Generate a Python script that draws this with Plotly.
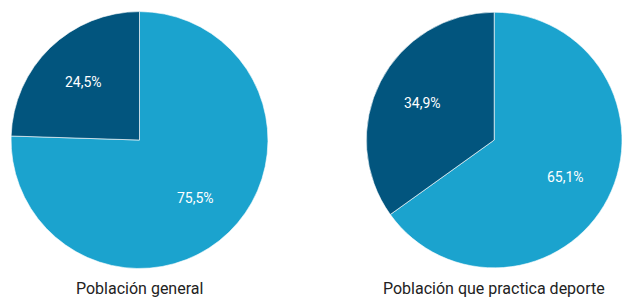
import math
import plotly.graph_objects as go

categories = ["No", "Sí"]
general_values = [75.5, 24.5]
deporte_values = [65.1, 34.9]
general_labels = ["75,5%", "24,5%"]
deporte_labels = ["65,1%", "34,9%"]
titles = ["Población general", "Población que practica deporte"]

light = "#1ba3ce"
dark = "#02557e"

W, H = 622, 297
domains_x = [[0.0177, 0.4309], [0.589, 1.0]]
domain_y = [0.096, 0.961]

fig = go.Figure()
common = dict(
    sort=False,
    direction="clockwise",
    rotation=0,
    textinfo="none",
    marker=dict(colors=[light, dark], line=dict(color="rgba(255,255,255,0.6)", width=1)),
    showlegend=False,
    hoverinfo="skip",
)

series = [(general_values, general_labels), (deporte_values, deporte_labels)]
for (vals, labs), dx, title in zip(series, domains_x, titles):
    fig.add_trace(go.Pie(labels=categories, values=vals,
                         domain=dict(x=dx, y=domain_y), **common))
    # pie geometry in pixels (as plotly computes it)
    wpx = (dx[1] - dx[0]) * W
    hpx = (domain_y[1] - domain_y[0]) * H
    r = min(wpx, hpx) / 2
    cx = (dx[0] + dx[1]) / 2 * W
    cy = (domain_y[0] + domain_y[1]) / 2 * H
    total = sum(vals)
    cum = 0
    for v, lab in zip(vals, labs):
        mid = (cum + v / 2) / total * 2 * math.pi
        cum += v
        px = cx + 0.63 * r * math.sin(mid)
        py = cy + 0.63 * r * math.cos(mid)
        fig.add_annotation(text=lab, x=px / W, y=py / H, xref="paper", yref="paper",
                           xanchor="center", yanchor="middle", showarrow=False,
                           font=dict(family="Roboto", size=14, color="white"))
    fig.add_annotation(text=title, x=cx / W, y=1 - 288 / H, xref="paper", yref="paper",
                       xanchor="center", yanchor="middle", showarrow=False,
                       font=dict(family="Roboto", size=16, color="#222222"))

fig.update_layout(width=W, height=H, margin=dict(l=0, r=0, t=0, b=0),
                  paper_bgcolor="white", plot_bgcolor="white")
fig.write_html("out.html", config={"displayModeBar": False},
               post_script="document.body.style.margin='0';document.body.style.overflow='hidden';")
